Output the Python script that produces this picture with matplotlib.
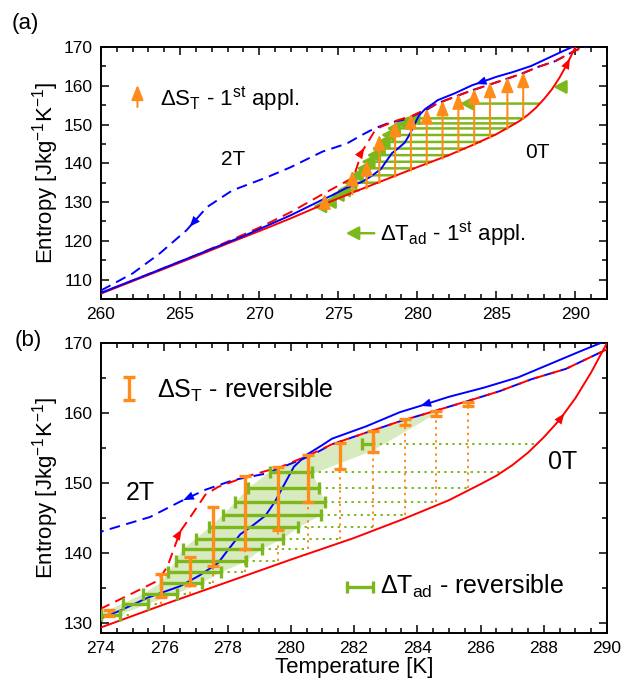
import matplotlib
matplotlib.use("Agg")
import matplotlib.pyplot as plt
import numpy as np
from matplotlib.patches import FancyArrowPatch
from matplotlib.ticker import MultipleLocator

plt.rcParams['font.family'] = ['Liberation Sans', 'DejaVu Sans']
plt.rcParams['mathtext.fontset'] = 'custom'
plt.rcParams['mathtext.rm'] = 'Liberation Sans'
plt.rcParams['mathtext.it'] = 'Liberation Sans:italic'

# ---- entropy curves S(T) ----
T_0T = [260, 262, 264, 266, 268, 270, 272, 274, 276, 278, 280, 282, 283.5, 285, 286, 286.5, 287, 287.5, 288, 288.5,
        289, 289.5, 290, 290.1]
S_0T = [106.4, 109.6, 112.8, 116.0, 119.3, 122.5, 125.8, 129.3, 132.6, 135.8, 139.0, 142.1, 144.7, 147.5, 149.8, 151.0,
        152.5, 154.3, 156.5, 159.0, 162.1, 165.8, 170.0, 171.0]

T_0Tc = [260, 263, 266, 269, 272, 274, 274.6, 275.5, 276.5, 277.1, 277.7, 278.0, 278.4, 278.8, 279.2, 279.5, 279.8, 280.1, 280.5,
         281.0, 281.3, 282.4, 283.45, 284.1, 285.0, 286.1, 287.2, 288.2, 289.2, 289.8, 290.5]
S_0Tc = [106.6, 111.4, 116.3, 121.2, 126.6, 130.6, 131.7, 133.6, 135.2, 136.7, 138.5, 140.3, 142.6, 143.9, 145.3, 147.3, 149.8, 152.3, 154.0,
         155.4, 156.3, 158.1, 160.1, 161.0, 162.3, 163.6, 165.1, 167.0, 168.9, 170.0, 171.0]

T_2Th = [260, 263, 266, 268, 270, 272, 274, 275.0, 275.8, 276.1, 276.5, 276.9, 277.3, 277.7, 278.6, 279.7, 280.6, 281.3, 282.4,
         283.45, 284.5, 285.6, 286.6, 287.6, 288.7, 290.0, 290.5]
S_2Th = [106.5, 111.4, 116.3, 119.8, 123.4, 127.4, 132.0, 134.2, 136.0, 138.0, 143.0, 145.6, 148.3, 149.4, 150.9, 152.3, 154.0, 155.5, 157.2,
         158.8, 160.2, 161.7, 163.1, 164.8, 166.3, 169.1, 170.2]

T_2Tc = [260, 262, 263.7, 265.4, 266.7, 268.3, 270.5, 272, 274, 275.55, 276.5, 277.3, 278.2, 279.2, 280.6, 281.3, 282.4, 283.45,
         284.5, 285.6, 286.6, 287.6, 288.7, 290.0, 291.4]
S_2Tc = [107.2, 111.6, 116.7, 122.7, 128.7, 133.0, 136.4, 139.0, 143.0, 145.1, 147.3, 149.0, 150.4, 151.3, 153.8, 155.5, 157.2, 158.8,
         160.2, 161.7, 163.1, 164.8, 166.3, 169.1, 171.0]

# ---- (a) 1st application ----
dS1_T = [274.15, 275.9, 276.8, 277.6, 278.6, 279.6, 280.6, 281.6, 282.6, 283.6, 284.6, 285.7, 286.7]
dS1_lo = [129.0, 132.0, 133.5, 134.9, 136.5, 138.1, 139.6, 141.2, 142.9, 144.7, 146.6, 149.0, 151.4]
dS1_hi = [132.2, 138.2, 140.8, 147.4, 150.9, 152.9, 154.2, 156.3, 158.0, 159.3, 161.0, 162.3, 163.6]

dT1_S = [128.9, 130.0, 131.8, 133.0, 135.0, 136.9, 138.7, 140.4, 142.1, 143.8, 145.5, 147.3, 149.0, 150.3, 151.6, 155.4, 159.7]
dT1_from = [274.2, 274.7, 275.5, 276.3, 277.5, 278.7, 279.8, 280.9, 282.0, 283.0, 284.0, 284.9, 285.7, 286.2, 286.7, 287.7, 289.4]
dT1_to = [273.4, 274.0, 274.5, 274.9, 275.3, 275.7, 276.15, 276.45, 276.8, 277.1, 277.4, 277.7, 278.05, 278.6, 279.3, 282.7, 288.6]

# ---- (b) reversible ----
dS2_T = [274.25, 275.9, 276.8, 277.55, 278.55, 279.6, 280.55, 281.55, 282.6, 283.6, 284.6, 285.6]
dS2_lo = [130.9, 133.6, 135.3, 138.1, 140.5, 143.3, 147.3, 151.9, 154.4, 158.3, 159.6, 161.0]
dS2_hi = [131.8, 137.0, 139.4, 146.6, 150.9, 152.3, 154.0, 155.7, 157.4, 159.1, 160.3, 161.6]
dS2_base = [130.9, 132.7, 134.1, 135.7, 137.2, 138.8, 140.5, 142.0, 143.6, 145.4, 147.2, 149.2]

dT2_S = [131.1, 132.7, 134.1, 135.7, 137.2, 138.8, 140.5, 142.0, 143.6, 145.4, 147.2, 149.2, 151.6, 155.5]
dT2_lo = [274.0, 274.68, 275.34, 275.9, 276.13, 276.36, 276.58, 277.0, 277.43, 277.86, 278.24, 278.66, 279.34, 282.24]
dT2_hi = [274.6, 275.5, 276.39, 277.2, 277.8, 278.6, 279.08, 279.76, 280.24, 280.97, 281.08, 280.9, 280.66, 282.6]
dT2_end = [274.9, 275.9, 276.8, 277.55, 278.55, 279.6, 280.55, 281.55, 282.6, 283.6, 284.6, 285.6, 286.7, 287.8]

band_T = [274.0, 274.6, 275.5, 276.39, 277.2, 277.8, 278.6, 279.08, 279.76, 280.24, 280.97, 281.08, 280.7, 282.6, 284.6,
          284.6, 283.6, 282.6, 281.5, 280.6, 279.34, 278.66, 278.24, 277.86, 277.43, 277.0, 276.58, 276.36, 276.13, 275.9,
          275.34, 274.68, 274.0]
band_S = [130.6, 131.1, 132.7, 134.1, 135.7, 137.2, 138.8, 140.5, 142.0, 143.6, 145.4, 147.2, 151.3, 154.6, 159.9,
          160.3, 159.0, 157.4, 155.6, 154.0, 151.6, 149.2, 147.2, 145.4, 143.6, 142.0, 140.5, 138.8, 137.2, 135.7,
          134.1, 132.7, 131.3]

RED = '#ff0000'
BLUE = '#0000ff'
ORANGE = '#ff8c1a'
GREEN = '#7cb81c'
SHADE = '#d8eabf'
dash = (0, (5.5, 3.3))
HEAD_O = '-|>,head_length=0.45,head_width=0.18'
HEAD_G = '-|>,head_length=0.38,head_width=0.2'


def curves(ax, arrows):
    ax.plot(T_2Tc, S_2Tc, color=BLUE, lw=1.4, ls=dash, zorder=3)
    ax.plot(T_2Th, S_2Th, color=RED, lw=1.4, ls=(4, (5.5, 3.3)), zorder=3)
    ax.plot(T_0T, S_0T, color=RED, lw=1.4, zorder=3)
    ax.plot(T_0Tc, S_0Tc, color=BLUE, lw=1.4, zorder=3)
    data = {'bd': (T_2Tc, S_2Tc, BLUE), 'rd': (T_2Th, S_2Th, RED),
            'r': (T_0T, S_0T, RED), 'b': (T_0Tc, S_0Tc, BLUE)}
    for key, t, d, dt in arrows:
        T, S, c = data[key]
        t0 = t - d * dt
        ax.annotate('', xy=(t, np.interp(t, T, S)), xytext=(t0, np.interp(t0, T, S)),
                    arrowprops=dict(arrowstyle='-|>,head_length=0.55,head_width=0.22', color=c,
                                    lw=0, mutation_scale=14, shrinkA=0, shrinkB=0), zorder=5)


def style(ax, xlim, ylim, xmaj, xmin):
    ax.set_xlim(*xlim)
    ax.set_ylim(*ylim)
    ax.xaxis.set_major_locator(MultipleLocator(xmaj))
    ax.xaxis.set_minor_locator(MultipleLocator(xmin))
    ax.yaxis.set_major_locator(MultipleLocator(10))
    ax.yaxis.set_minor_locator(MultipleLocator(5))
    ax.tick_params(which='both', direction='in', top=True, right=True, width=1.1, labelsize=12.5)
    ax.tick_params(which='major', length=6, pad=6)
    ax.tick_params(which='minor', length=3.5)
    for s in ax.spines.values():
        s.set_linewidth(1.4)


fig = plt.figure(figsize=(6.37, 6.90), dpi=100)
axa = fig.add_axes([0.1586, 0.5667, 0.7943, 0.3652])
axb = fig.add_axes([0.1586, 0.0826, 0.7943, 0.4203])

# ---------- panel (a) ----------
style(axa, (260, 292), (105, 170), 5, 1)
for s, t0, t1 in zip(dT1_S, dT1_from, dT1_to):
    axa.add_patch(FancyArrowPatch((t0, s), (t1, s), arrowstyle=HEAD_G,
                                  mutation_scale=20, color=GREEN, lw=1.8, shrinkA=0, shrinkB=0, zorder=2))
curves(axa, [('bd', 265.6, -1, 0.5), ('rd', 276.65, 1, 0.15), ('b', 283.7, -1, 0.6), ('r', 289.65, 1, 0.1)])
for t, lo, hi in zip(dS1_T, dS1_lo, dS1_hi):
    axa.add_patch(FancyArrowPatch((t, lo), (t, hi), arrowstyle=HEAD_O,
                                  mutation_scale=20, color=ORANGE, lw=1.5, shrinkA=0, shrinkB=0, zorder=4))

axa.add_patch(FancyArrowPatch((0.072, 0.762), (0.072, 0.85), transform=axa.transAxes,
                              arrowstyle=HEAD_O, mutation_scale=20,
                              color=ORANGE, lw=1.5, shrinkA=0, shrinkB=0))
axa.text(0.117, 0.797, r'$\Delta$S$_\mathregular{T}$ - 1$^\mathregular{st}$ appl.', transform=axa.transAxes,
         fontsize=16, va='center', ha='left')
axa.add_patch(FancyArrowPatch((0.54, 0.261), (0.484, 0.261), transform=axa.transAxes,
                              arrowstyle=HEAD_G, mutation_scale=20,
                              color=GREEN, lw=1.8, shrinkA=0, shrinkB=0))
axa.text(0.551, 0.261, r'$\Delta$T$_\mathregular{ad}$ - 1$^\mathregular{st}$ appl.', transform=axa.transAxes,
         fontsize=16, va='center', ha='left')
axa.text(0.261, 0.552, '2T', transform=axa.transAxes, fontsize=15, ha='center', va='center')
axa.text(0.862, 0.583, '0T', transform=axa.transAxes, fontsize=15, ha='center', va='center')

# ---------- panel (b) ----------
style(axb, (274, 290), (128.5, 170), 2, 0.5)
axb.fill(band_T, band_S, color=SHADE, lw=0, zorder=1)
dot = (0, (1.2, 2.2))
axb.hlines(dT2_S, dT2_hi, dT2_end, colors=GREEN, lw=1.4, linestyles=dot, zorder=2)
axb.vlines(dS2_T, dS2_base, dS2_lo, colors=ORANGE, lw=1.4, linestyles=dot, zorder=2)
curves(axb, [('bd', 276.6, -1, 0.25), ('rd', 276.55, 1, 0.06), ('b', 284.1, -1, 0.3), ('r', 288.65, 1, 0.08)])
xc = (np.array(dT2_lo) + np.array(dT2_hi)) / 2
xe = (np.array(dT2_hi) - np.array(dT2_lo)) / 2
axb.errorbar(xc, dT2_S, xerr=xe, fmt='none', ecolor=GREEN, elinewidth=2.4, capsize=4, capthick=2.4, zorder=4)
yc = (np.array(dS2_lo) + np.array(dS2_hi)) / 2
ye = (np.array(dS2_hi) - np.array(dS2_lo)) / 2
axb.errorbar(dS2_T, yc, yerr=ye, fmt='none', ecolor=ORANGE, elinewidth=2.4, capsize=4.5, capthick=2.4, zorder=5)

axb.errorbar([0.056], [0.8435], yerr=[0.0405], fmt='none', ecolor=ORANGE, elinewidth=2.4, capsize=4.5,
             capthick=2.4, transform=axb.transAxes)
axb.text(0.111, 0.838, r'$\Delta$S$_\mathregular{T}$ - reversible', transform=axb.transAxes,
         fontsize=18, va='center', ha='left')
axb.errorbar([0.5115], [0.160], xerr=[0.0255], fmt='none', ecolor=GREEN, elinewidth=2.4, capsize=4,
             capthick=2.4, transform=axb.transAxes)
axb.text(0.551, 0.160, r'$\Delta$T$_\mathregular{ad}$ - reversible', transform=axb.transAxes,
         fontsize=18, va='center', ha='left')
axb.text(0.077, 0.483, '2T', transform=axb.transAxes, fontsize=18, ha='center', va='center')
axb.text(0.913, 0.590, '0T', transform=axb.transAxes, fontsize=18, ha='center', va='center')

ylab = r'Entropy [Jkg$^\mathregular{-1}$K$^\mathregular{-1}$]'
fig.text(0.071, 0.749, ylab, rotation=90, fontsize=16, ha='center', va='center')
fig.text(0.071, 0.293, ylab, rotation=90, fontsize=16, ha='center', va='center')
fig.text(0.556, 0.032, 'Temperature [K]', fontsize=16, ha='center', va='center')
fig.text(0.039, 0.966, '(a)', fontsize=16, ha='center', va='center')
fig.text(0.044, 0.507, '(b)', fontsize=16, ha='center', va='center')

fig.savefig('out.png', dpi=100)
